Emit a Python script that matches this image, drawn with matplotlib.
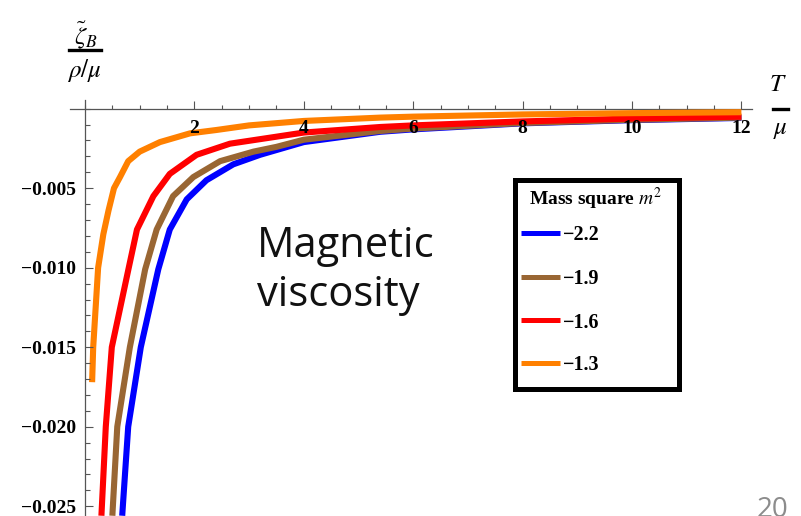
import matplotlib
matplotlib.use("Agg")
import matplotlib.pyplot as plt
from matplotlib.ticker import MultipleLocator
from matplotlib.lines import Line2D
from matplotlib.patches import Rectangle

plt.rcParams['font.family'] = ['Liberation Serif', 'DejaVu Serif']
plt.rcParams['mathtext.fontset'] = 'stix'

# ---- data ----
series_labels = ["\u22122.2", "\u22121.9", "\u22121.6", "\u22121.3"]
series_colors = ["#0000ff", "#996633", "#ff0000", "#ff8000"]
legend_title = "Mass square $m^2$"

T_m22 = [0.68, 0.79, 1.02, 1.34, 1.55, 1.86, 2.22, 2.71, 3.2, 3.5, 4.0, 5.4, 6.0, 8.0, 10.0, 12.0]
z_m22 = [-0.0256, -0.0200, -0.0150, -0.0101, -0.0076, -0.0057, -0.0045, -0.0035, -0.0029, -0.0026,
         -0.0021, -0.00145, -0.0013, -0.00092, -0.00072, -0.00058]

T_m19 = [0.50, 0.59, 0.82, 1.10, 1.31, 1.61, 1.98, 2.47, 3.08, 3.5, 4.0, 5.4, 6.0, 8.0, 10.0, 12.0]
z_m19 = [-0.0256, -0.0200, -0.0150, -0.0101, -0.0076, -0.0055, -0.0043, -0.0033, -0.0027, -0.0024,
         -0.00195, -0.0014, -0.00125, -0.0009, -0.0007, -0.00056]

T_m16 = [0.30, 0.38, 0.49, 0.80, 0.95, 1.25, 1.55, 2.04, 2.65, 3.5, 4.0, 5.4, 6.0, 8.0, 10.0, 12.0]
z_m16 = [-0.0256, -0.0200, -0.0150, -0.0100, -0.0076, -0.0055, -0.0041, -0.0029, -0.0022, -0.00176,
         -0.0015, -0.00115, -0.00105, -0.0008, -0.00062, -0.0005]

T_m13 = [0.13, 0.15, 0.24, 0.335, 0.43, 0.53, 0.64, 0.79, 1.0, 1.37, 1.92, 2.4, 3.0, 4.0, 5.4, 6.0,
         8.0, 10.0, 12.0]
z_m13 = [-0.0172, -0.0150, -0.0100, -0.0079, -0.0064, -0.0050, -0.0043, -0.0033, -0.0027, -0.0021,
         -0.00155, -0.00134, -0.00105, -0.00077, -0.00056, -0.0005, -0.00036, -0.00028, -0.00022]

x_ticks = [2, 4, 6, 8, 10, 12]
x_tick_labels = ["2", "4", "6", "8", "10", "12"]
y_ticks = [-0.025, -0.020, -0.015, -0.010, -0.005]
y_tick_labels = ["\u22120.025", "\u22120.020", "\u22120.015", "\u22120.010", "\u22120.005"]

# ---- figure ----
W, H = 801, 516
fig = plt.figure(figsize=(W / 100, H / 100), dpi=100)


def fx(px):
    return px / W


def fy(py):
    return 1 - py / H


xmin, xmax = -0.27, 12.2
ymin, ymax = -0.0256, 0.00055
px_x0, sx = 85.0, 54.7       # pixel of x=0, px per unit
px_y0, sy = 108.7, 15.9      # pixel of y=0, px per 0.001
left_px = px_x0 + sx * xmin
right_px = px_x0 + sx * xmax
top_px = px_y0 - sy * ymax * 1000
bot_px = px_y0 - sy * ymin * 1000
ax = fig.add_axes([fx(left_px), fy(bot_px), (right_px - left_px) / W, (bot_px - top_px) / H])
ax.set_xlim(xmin, xmax)
ax.set_ylim(ymin, ymax)
ax.patch.set_alpha(0)
ax.set_axisbelow(False)

axis_col = "#555555"
for s in ["top", "right"]:
    ax.spines[s].set_visible(False)
ax.spines["left"].set_position(("data", 0))
ax.spines["bottom"].set_position(("data", 0))
for s in ["left", "bottom"]:
    ax.spines[s].set_color(axis_col)
    ax.spines[s].set_linewidth(0.9)
    ax.spines[s].set_zorder(1)

ax.set_xticks(x_ticks)
ax.set_xticklabels(x_tick_labels)
ax.set_yticks(y_ticks)
ax.set_yticklabels(y_tick_labels)
ax.xaxis.set_minor_locator(MultipleLocator(0.5))
ax.yaxis.set_minor_locator(MultipleLocator(0.001))
ax.tick_params(axis="x", which="major", direction="in", length=5.5, width=0.8, color=axis_col, pad=8,
               labelsize=14)
ax.tick_params(axis="x", which="minor", direction="in", length=3.2, width=0.8, color=axis_col)
ax.tick_params(axis="y", which="major", direction="in", length=6, width=0.8, color=axis_col, pad=6.5,
               labelsize=14)
ax.tick_params(axis="y", which="minor", direction="in", length=3.5, width=0.8, color=axis_col)
for lbl in ax.get_xticklabels() + ax.get_yticklabels():
    lbl.set_fontweight("bold")
ax.xaxis.set_zorder(5)
ax.yaxis.set_zorder(5)

all_T = [T_m22, T_m19, T_m16, T_m13]
all_z = [z_m22, z_m19, z_m16, z_m13]
for T, z, c, lab in zip(all_T, all_z, series_colors, series_labels):
    ax.plot(T, z, color=c, lw=4.4, label=lab, solid_joinstyle="round", solid_capstyle="butt",
            zorder=2)

# ---- legend box (Mathematica style) ----
fig.add_artist(Rectangle((fx(514.5), fy(389)), (678.5 - 514.5) / W, (389 - 180.5) / H,
                         transform=fig.transFigure, facecolor="white", edgecolor="black",
                         linewidth=3.6, zorder=10))
fig.text(fx(596), fy(199), legend_title, fontsize=14, fontweight="bold", ha="center",
         va="center", zorder=11)
row_y = [233, 277, 320, 363]
for ry, c, lab in zip(row_y, series_colors, series_labels):
    fig.add_artist(Line2D([fx(521), fx(560)], [fy(ry), fy(ry)], color=c, lw=3.6,
                          solid_capstyle="butt", zorder=11))
    fig.text(fx(563), fy(ry), lab, fontsize=14.5, fontweight="bold", ha="left",
             va="center_baseline", zorder=11)

# axis labels (Mathematica style fractions)
fig.text(fx(86), fy(35), r"$\tilde{\zeta}_B$", fontsize=18, ha="center", va="center")
fig.add_artist(Line2D([fx(69), fx(101)], [fy(50), fy(50)], color="black", lw=2.4))
fig.text(fx(84), fy(71), r"$\rho/\mu$", fontsize=18, ha="center", va="center")

fig.text(fx(778), fy(85), r"$T$", fontsize=18, ha="center", va="center")
fig.add_artist(Line2D([fx(773), fx(788)], [fy(108.5), fy(108.5)], color="black", lw=2.4))
fig.text(fx(780), fy(130), r"$\mu$", fontsize=18, ha="center", va="center")

fig.text(fx(257), fy(257), "Magnetic", fontsize=30, family=["Open Sans", "DejaVu Sans"],
         ha="left", va="baseline", color="#111111")
fig.text(fx(257), fy(306), "viscosity", fontsize=30, family=["Open Sans", "DejaVu Sans"],
         ha="left", va="baseline", color="#111111")

fig.text(fx(773), fy(496), "20", fontsize=20, family=["Open Sans", "DejaVu Sans"], color="#8c8c8c",
         ha="center", va="top")

fig.savefig("out.png", dpi=100)
